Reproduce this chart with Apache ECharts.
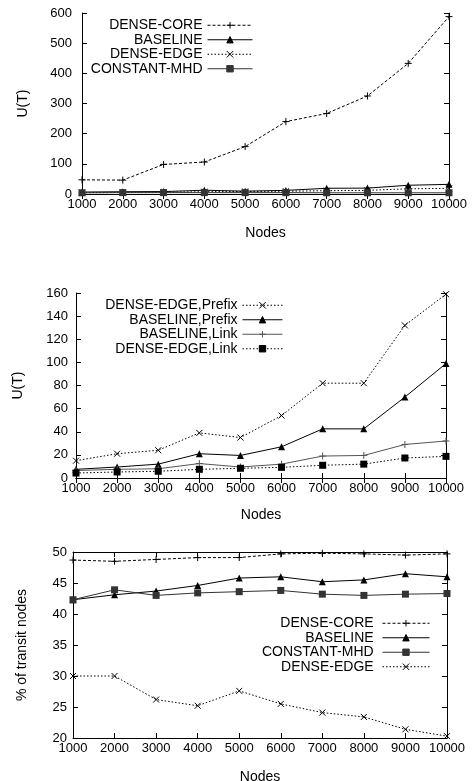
<!DOCTYPE html>
<html>
<head>
<meta charset="utf-8">
<script src="https://cdn.jsdelivr.net/npm/echarts@6/dist/echarts.min.js"></script>
<style>
html,body{margin:0;padding:0;background:#fff;}
#chart{width:472px;height:781px;}
</style>
</head>
<body>
<div id="chart"></div>
<script>
// ---- data ----
const nodes = [1000, 2000, 3000, 4000, 5000, 6000, 7000, 8000, 9000, 10000];

// chart 1: U(T)
const topDenseCore   = [47, 46, 98, 106, 157, 240, 267, 325, 433, 588];
const topBaseline    = [6.5, 7.5, 8, 12.5, 9.5, 12, 19, 19.5, 29, 32];
const topDenseEdge   = [4.3, 5.2, 5.8, 7.5, 8.4, 9.2, 11, 12, 17.3, 18.7];
const topConstantMhd = [4, 4.5, 4.5, 4.5, 4.5, 4.5, 4, 4, 4, 4];

// chart 2: U(T) prefix / link
const midDenseEdgePrefix = [15, 21, 24, 39, 35, 54, 82, 82, 132, 159];
const midBaselinePrefix  = [7.5, 9.5, 12, 21, 19.5, 27, 42.5, 42.5, 70, 99];
const midBaselineLink    = [6.5, 7.5, 8, 12.5, 9.5, 12, 19, 19.5, 29, 32];
const midDenseEdgeLink   = [4.3, 5.2, 5.8, 7.5, 8.4, 9.2, 11, 12, 17.3, 18.7];

// chart 3: % of transit nodes
const botDenseCore   = [48.7, 48.5, 48.8, 49.1, 49.1, 49.7, 49.8, 49.7, 49.5, 49.7];
const botBaseline    = [42.3, 43.1, 43.7, 44.6, 45.8, 46.0, 45.2, 45.5, 46.5, 46.0];
const botConstantMhd = [42.3, 43.9, 43.0, 43.4, 43.6, 43.8, 43.2, 43.0, 43.2, 43.3];
const botDenseEdge   = [30.0, 30.0, 26.2, 25.2, 27.6, 25.5, 24.1, 23.4, 21.4, 20.3];

// ---- styling ----
const FONT = '"Liberation Sans", Arial, Helvetica, sans-serif';
const PLUS = 'path://M0,5L10,5M5,0L5,10';
const CROSS = 'path://M0,0L10,10M10,0L0,10';

function pairs(ys) { return nodes.map((x, i) => [x, ys[i]]); }

function mkSeries(name, ys, axisIdx, opts) {
  return {
    type: 'line',
    name: name,
    xAxisIndex: axisIdx * 2,
    yAxisIndex: axisIdx * 2,
    data: pairs(ys),
    symbol: opts.symbol,
    symbolSize: opts.size,
    showSymbol: true,
    animation: false,
    lineStyle: { color: opts.color, width: 1, type: opts.dash },
    itemStyle: { color: opts.color, borderColor: opts.color, borderWidth: opts.bw },
    z: opts.z || 2
  };
}

const S = {
  core:  { symbol: PLUS,  size: 7, color: '#000', dash: [3, 2], bw: 1 },
  base:  { symbol: 'triangle', size: 7, color: '#000', dash: 'solid', bw: 0 },
  edge:  { symbol: CROSS, size: 6, color: '#000', dash: [1.5, 2], bw: 1 },
  mhd:   { symbol: 'rect', size: 7, color: '#333', dash: 'solid', bw: 0 },
  link:  { symbol: PLUS,  size: 7, color: '#555', dash: 'solid', bw: 1 },
  edgeL: { symbol: 'rect', size: 7, color: '#000', dash: [1.5, 2], bw: 0 }
};

const grids = [
  { left: 82, right: 23, top: 13, height: 181, outerBoundsMode: 'none', containLabel: false },
  { left: 76, right: 26, top: 293, height: 185, outerBoundsMode: 'none', containLabel: false },
  { left: 73, right: 25, top: 552, height: 186, outerBoundsMode: 'none', containLabel: false }
];

const yRanges = [
  { min: 0, max: 600, interval: 100, name: 'U(T)', gap: 52, margin: 10 },
  { min: 0, max: 160, interval: 20, name: 'U(T)', gap: 51, margin: 8 },
  { min: 20, max: 50, interval: 5, name: '% of transit nodes', gap: 44, margin: 6 }
];
const xGaps = [32, 30, 32];

const xAxes = [], yAxes = [];
grids.forEach((g, i) => {
  const axisLine = { show: true, lineStyle: { color: '#000', width: 1 } };
  const tick = { show: true, inside: true, length: 5, lineStyle: { color: '#000' } };
  xAxes.push({
    type: 'value', gridIndex: i, position: 'bottom',
    min: 1000, max: 10000, interval: 1000,
    axisLine: axisLine, axisTick: tick, splitLine: { show: false },
    axisLabel: { color: '#000', fontSize: 13, fontFamily: FONT, margin: 4, showMinLabel: true, showMaxLabel: true,
                 formatter: v => String(v) },
    name: 'Nodes', nameLocation: 'middle', nameGap: xGaps[i],
    nameTextStyle: { color: '#000', fontSize: 14, fontFamily: FONT }
  });
  xAxes.push({
    type: 'value', gridIndex: i, position: 'top',
    min: 1000, max: 10000, interval: 1000,
    axisLine: axisLine, axisTick: tick, splitLine: { show: false },
    axisLabel: { show: false }
  });
  const r = yRanges[i];
  yAxes.push({
    type: 'value', gridIndex: i, position: 'left',
    min: r.min, max: r.max, interval: r.interval,
    axisLine: axisLine, axisTick: tick, splitLine: { show: false },
    axisLabel: { color: '#000', fontSize: 13, fontFamily: FONT, margin: r.margin, formatter: v => String(v) },
    name: r.name, nameLocation: 'middle', nameGap: r.gap, nameRotate: 90,
    nameTextStyle: { color: '#000', fontSize: 14, fontFamily: FONT }
  });
  yAxes.push({
    type: 'value', gridIndex: i, position: 'right',
    min: r.min, max: r.max, interval: r.interval,
    axisLine: axisLine, axisTick: tick, splitLine: { show: false },
    axisLabel: { show: false }
  });
});

function mkLegend(names, right, top, width) {
  return {
    data: names,
    orient: 'vertical',
    align: 'right',
    right: right, top: top,
    padding: 0,
    itemGap: 0,
    itemWidth: width,
    itemHeight: 8,
    selectedMode: false,
    lineStyle: { width: 1 },
    itemStyle: { borderWidth: 1 },
    textStyle: { color: '#000', fontSize: 14, fontFamily: FONT, lineHeight: 14.5 }
  };
}

const series = [
  mkSeries('DENSE-CORE', topDenseCore, 0, S.core),
  mkSeries('BASELINE', topBaseline, 0, S.base),
  mkSeries('DENSE-EDGE', topDenseEdge, 0, S.edge),
  mkSeries('CONSTANT-MHD', topConstantMhd, 0, S.mhd),

  mkSeries('DENSE-EDGE,Prefix', midDenseEdgePrefix, 1, S.edge),
  mkSeries('BASELINE,Prefix', midBaselinePrefix, 1, S.base),
  mkSeries('BASELINE,Link', midBaselineLink, 1, S.link),
  mkSeries('DENSE-EDGE,Link', midDenseEdgeLink, 1, S.edgeL),

  mkSeries('DENSE-CORE ', botDenseCore, 2, S.core),
  mkSeries('BASELINE ', botBaseline, 2, S.base),
  mkSeries('CONSTANT-MHD ', botConstantMhd, 2, S.mhd),
  mkSeries('DENSE-EDGE ', botDenseEdge, 2, S.edge)
];

const chart = echarts.init(document.getElementById('chart'), null, { renderer: 'canvas' });
chart.setOption({
  backgroundColor: '#fff',
  animation: false,
  grid: grids,
  xAxis: xAxes,
  yAxis: yAxes,
  legend: [
    mkLegend(['DENSE-CORE', 'BASELINE', 'DENSE-EDGE', 'CONSTANT-MHD'], 219, 18, 45),
    mkLegend(['DENSE-EDGE,Prefix', 'BASELINE,Prefix', 'BASELINE,Link', 'DENSE-EDGE,Link'], 189, 298, 40),
    mkLegend(['DENSE-CORE ', 'BASELINE ', 'CONSTANT-MHD ', 'DENSE-EDGE '], 42, 616, 47)
  ],
  series: series
});
</script>
</body>
</html>
